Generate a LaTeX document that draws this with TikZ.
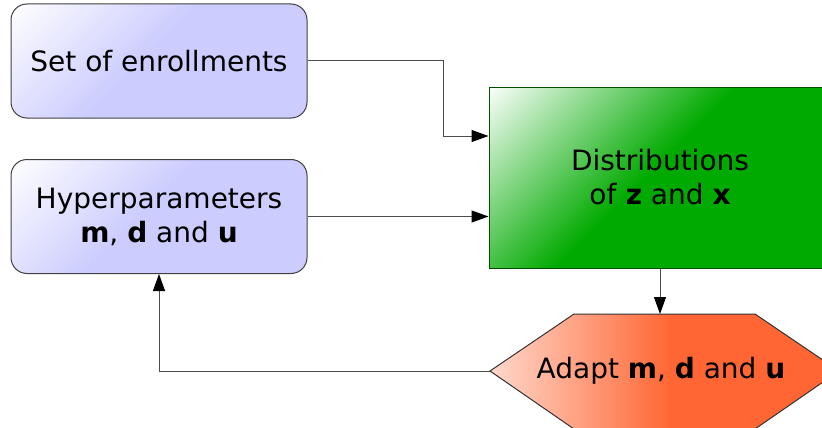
\documentclass[tikz,border=0pt]{standalone}
\usepackage{fontspec}
\setmainfont{DejaVu Sans}
\usetikzlibrary{arrows.meta}
\definecolor{lav}{HTML}{CCCCFF}
\definecolor{grn}{HTML}{00AA00}
\definecolor{org}{HTML}{FF6633}
\definecolor{orgl}{HTML}{FFD8CC}
\pgfdeclarehorizontalshading{lavsh}{100bp}{color(0bp)=(white); color(14bp)=(white); color(47bp)=(lav); color(100bp)=(lav)}
\pgfdeclarehorizontalshading{grnsh}{100bp}{color(0bp)=(white); color(14bp)=(white); color(48bp)=(grn); color(100bp)=(grn)}
\pgfdeclarehorizontalshading{orgsh}{100bp}{color(0bp)=(orgl); color(25bp)=(orgl); color(51bp)=(org); color(100bp)=(org)}
\begin{document}
\begin{tikzpicture}[x=1pt,y=1pt,
  txt/.style={font=\fontsize{28}{34}\selectfont, align=center, inner sep=0pt},
  inbox/.style={txt, draw=black!75, line width=1pt, rounded corners=16pt, shading=lavsh, shading angle=-45, minimum width=296pt, minimum height=114pt},
  distbox/.style={txt, draw=grn!45!black, line width=1pt, shading=grnsh, shading angle=-45, minimum width=342pt, minimum height=181pt},
  hexshape/.style={draw=black!80, line width=1pt, shading=orgsh},
  conn/.style={draw=black!70, line width=1pt, -{Triangle[length=17pt,width=12pt,color=black]}}
]
\useasboundingbox (0,0) rectangle (822,-428);
\node[inbox] (enr) at (159,-61) {Set of enrollments};
\node[inbox] (hyp) at (159,-216.5) {Hyperparameters\\\textbf{m}, \textbf{d} and \textbf{u}};
\node[distbox] (dist) at (660,-177.5) {Distributions\\of \textbf{z} and \textbf{x}};
\path[hexshape] (490,-371) coordinate (adL) -- (574,-314) -- (660,-314) coordinate (adT) -- (755,-314) -- (839,-371) -- (755,-429) -- (574,-429) -- cycle;
\node[txt] (adapt) at (661,-371) {Adapt \textbf{m}, \textbf{d} and \textbf{u}};
\draw[conn] (enr.east) -- ++(136,0) |- ([yshift=41.5pt]dist.west);
\draw[conn] (hyp.east) -- (dist.west |- hyp.east);
\draw[conn] (dist.south) -- (adT);
\draw[conn] (adL) -| (hyp.south);
\end{tikzpicture}
\end{document}
